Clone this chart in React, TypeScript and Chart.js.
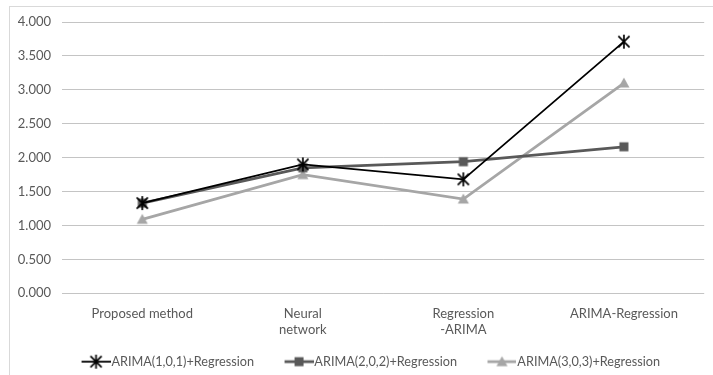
import React, { useEffect, useRef } from "react";
import { Chart, registerables } from "chart.js";

Chart.register(...registerables);

// Method categories along the x axis (multi-line where the label wraps)
const categories: (string | string[])[] = [
  "Proposed method",
  ["Neural", "network"],
  ["Regression", "-ARIMA"],
  "ARIMA-Regression",
];

const seriesNames = [
  "ARIMA(1,0,1)+Regression",
  "ARIMA(2,0,2)+Regression",
  "ARIMA(3,0,3)+Regression",
];

const arima101 = [1.33, 1.9, 1.68, 3.71];
const arima202 = [1.33, 1.85, 1.94, 2.16];
const arima303 = [1.09, 1.75, 1.39, 3.1];

const yTicks = { min: 0, max: 4, step: 0.5 };

const FONT = "Lato";
const TEXT = "#595959";

type MarkerKind = "asterisk" | "square" | "triangle";

function drawMarker(ctx: CanvasRenderingContext2D, kind: MarkerKind, cx: number, cy: number, color: string) {
  ctx.save();
  if (kind === "asterisk") {
    ctx.strokeStyle = color;
    ctx.lineWidth = 1.7;
    const r = 7;
    ctx.beginPath();
    ctx.moveTo(cx, cy - r);
    ctx.lineTo(cx, cy + r);
    ctx.moveTo(cx - r * 0.8, cy - r * 0.8);
    ctx.lineTo(cx + r * 0.8, cy + r * 0.8);
    ctx.moveTo(cx + r * 0.8, cy - r * 0.8);
    ctx.lineTo(cx - r * 0.8, cy + r * 0.8);
    ctx.stroke();
  } else if (kind === "square") {
    ctx.fillStyle = color;
    ctx.fillRect(cx - 4.5, cy - 4.5, 9, 9);
  } else {
    ctx.fillStyle = color;
    ctx.beginPath();
    ctx.moveTo(cx, cy - 5.5);
    ctx.lineTo(cx + 5.5, cy + 4.5);
    ctx.lineTo(cx - 5.5, cy + 4.5);
    ctx.closePath();
    ctx.fill();
  }
  ctx.restore();
}

function markerImage(kind: MarkerKind, color: string): HTMLCanvasElement {
  const c = document.createElement("canvas");
  c.width = 18;
  c.height = 18;
  const ctx = c.getContext("2d")!;
  drawMarker(ctx, kind, 9, 9, color);
  return c;
}

// Legend swatch: blank lead-in, then a short line with the marker on it
const SWATCH_LEAD = 28;
const SWATCH_LINE = 29;
function legendImage(kind: MarkerKind, color: string, lineWidth: number): HTMLCanvasElement {
  const c = document.createElement("canvas");
  c.width = SWATCH_LEAD + SWATCH_LINE;
  c.height = 16;
  const ctx = c.getContext("2d")!;
  ctx.strokeStyle = color;
  ctx.lineWidth = lineWidth;
  ctx.beginPath();
  ctx.moveTo(SWATCH_LEAD, 8);
  ctx.lineTo(SWATCH_LEAD + SWATCH_LINE, 8);
  ctx.stroke();
  drawMarker(ctx, kind, SWATCH_LEAD + SWATCH_LINE / 2, 8, color);
  return c;
}

const styles = [
  { kind: "asterisk" as MarkerKind, color: "#000000", width: 1.8 },
  { kind: "square" as MarkerKind, color: "#595959", width: 2.8 },
  { kind: "triangle" as MarkerKind, color: "#a6a6a6", width: 2.8 },
];

export default function App() {
  const ref = useRef<HTMLCanvasElement>(null);

  useEffect(() => {
    const values = [arima101, arima202, arima303];
    const legendImgs = styles.map((s) => legendImage(s.kind, s.color, s.width));
    const chart = new Chart(ref.current!, {
      type: "line",
      data: {
        labels: categories,
        datasets: values.map((v, i) => ({
          label: seriesNames[i],
          data: v,
          borderColor: styles[i].color,
          backgroundColor: styles[i].color,
          borderWidth: styles[i].width,
          pointStyle: markerImage(styles[i].kind, styles[i].color),
          pointRadius: 6,
          tension: 0,
        })),
      },
      options: {
        animation: false,
        responsive: false,
        layout: { padding: { left: 9, right: 3, top: 22, bottom: 0 } },
        scales: {
          x: {
            offset: true,
            grid: { display: false },
            border: { display: false },
            ticks: {
              color: TEXT,
              font: { family: FONT, size: 13 },
              padding: 5,
              maxRotation: 0,
              autoSkip: false,
            },
            afterFit: (axis) => {
              axis.height = 54;
            },
          },
          y: {
            min: yTicks.min,
            max: yTicks.max,
            grid: { color: "#c4c4c4", lineWidth: 1, drawTicks: false },
            border: { display: false },
            ticks: {
              stepSize: yTicks.step,
              color: TEXT,
              font: { family: FONT, size: 13 },
              padding: 11,
              callback: (v) => Number(v).toFixed(3),
            },
            afterFit: (axis) => {
              axis.width = 53;
            },
          },
        },
        plugins: {
          tooltip: { enabled: false },
          legend: {
            position: "bottom",
            labels: {
              color: TEXT,
              font: { family: FONT, size: 12.7 },
              usePointStyle: true,
              pointStyleWidth: SWATCH_LEAD + SWATCH_LINE - 11,
              padding: 8,
              generateLabels: (c) =>
                c.data.datasets.map((d, i) => ({
                  text: d.label as string,
                  pointStyle: legendImgs[i],
                  fillStyle: styles[i].color,
                  strokeStyle: styles[i].color,
                  lineWidth: 0,
                  datasetIndex: i,
                  fontColor: TEXT,
                })),
            },
          },
        },
      },
    });
    return () => chart.destroy();
  }, []);

  return (
    <div
      style={{
        position: "fixed",
        left: 0,
        top: 0,
        width: 713,
        height: 375,
        background: "#fff",
        overflow: "hidden",
      }}
    >
      <div
        style={{
          position: "absolute",
          left: 9,
          top: 6,
          width: 720,
          height: 380,
          border: "1px solid #d9d9d9",
          boxSizing: "border-box",
        }}
      />
      <canvas ref={ref} width={713} height={378} style={{ position: "absolute", left: 0, top: 0 }} />
    </div>
  );
}
